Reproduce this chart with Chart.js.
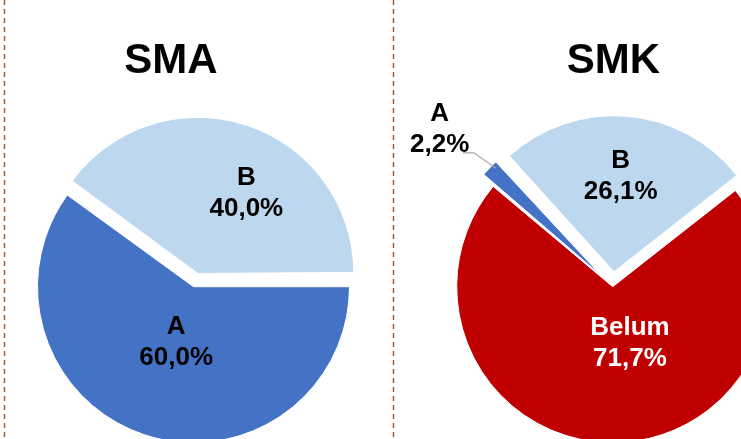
<!DOCTYPE html>
<html><head><meta charset="utf-8">
<script src="https://cdn.jsdelivr.net/npm/chart.js@4.4.1/dist/chart.umd.min.js"></script>
<style>
html,body{margin:0;padding:0;background:#fff;overflow:hidden;width:741px;height:439px;}
canvas{position:absolute;left:0;top:0;}
</style></head><body>
<canvas id="c1" width="741" height="600"></canvas>
<canvas id="c2" width="741" height="600"></canvas>
<script>
// ---- data ----
const chartTitles = ['SMA', 'SMK'];
const smaLabels = ['A', 'B'];
const smaValues = [60.0, 40.0];
const smkLabels = ['A', 'B', 'Belum'];
const smkValues = [2.2, 26.1, 71.7];

// ---- styles ----
const FONT = '"Liberation Sans", Arial, Helvetica, sans-serif';
const colorA = '#4472C4', colorB = '#BDD7EE', colorBelum = '#C00000';

const piePlugin = {
  id: 'piePlugin',
  beforeDatasetDraw(chart, args) {
    const meta = args.meta, ctrl = meta.controller;
    meta.data.forEach(arc => {
      const off = (arc.options.offset || 0) / 4;
      const fix = 1 - Math.sin(Math.min(Math.PI, arc.circumference || 0));
      arc.outerRadius = ctrl.outerRadius - off * fix;
    });
  },
  beforeDraw(chart, args, o) {
    if (!o.dividers) return;
    const ctx = chart.ctx;
    ctx.save();
    ctx.strokeStyle = '#9E5B34';
    ctx.lineWidth = 1.5;
    ctx.setLineDash([5, 4]);
    o.dividers.forEach(x => {
      ctx.beginPath(); ctx.moveTo(x, 0); ctx.lineTo(x, 439); ctx.stroke();
    });
    ctx.restore();
  },
  afterDatasetsDraw(chart, args, o) {
    const ctx = chart.ctx;
    const meta = chart.getDatasetMeta(0);
    const ds = chart.data.datasets[0];
    const total = ds.data.reduce((a, b) => a + b, 0);
    const R = meta.controller.outerRadius;
    ctx.save();
    meta.data.forEach((arc, i) => {
      const lp = o.labelPos[i];
      const t = (arc.options.offset || 0) / 4;
      const mid = (arc.startAngle + arc.endAngle) / 2;
      const cx = arc.x + Math.cos(mid) * t, cy = arc.y + Math.sin(mid) * t;
      const ang = arc.startAngle + lp.f * (arc.endAngle - arc.startAngle);
      const x = cx + Math.cos(ang) * lp.r * R, y = cy + Math.sin(ang) * lp.r * R;
      if (lp.leader) {
        const a0 = arc.startAngle + 0.7 * (arc.endAngle - arc.startAngle);
        const p0 = [cx + Math.cos(a0) * 0.97 * R, cy + Math.sin(a0) * 0.97 * R];
        const p1 = [cx + Math.cos(mid) * 1.14 * R, cy + Math.sin(mid) * 1.14 * R];
        ctx.strokeStyle = '#A6A6A6'; ctx.lineWidth = 1.2;
        ctx.beginPath(); ctx.moveTo(p0[0], p0[1]); ctx.lineTo(p1[0], p1[1]); ctx.lineTo(p1[0] - 11, p1[1]); ctx.stroke();
      }
      ctx.fillStyle = o.textColors[i];
      ctx.font = 'bold 26px ' + FONT;
      ctx.textAlign = 'center'; ctx.textBaseline = 'alphabetic';
      const cap = 26 * 0.358;
      ctx.fillText(chart.data.labels[i], x, y - 15.5 + cap);
      const pct = (ds.data[i] / total * 100).toFixed(1).replace('.', ',') + '%';
      ctx.fillText(pct, x, y + 15.5 + cap);
    });
    ctx.font = 'bold 42px ' + FONT;
    ctx.fillStyle = '#000';
    ctx.textAlign = 'center'; ctx.textBaseline = 'alphabetic';
    ctx.fillText(o.title, o.titleX, 73);
    ctx.restore();
  }
};

function makePie(id, labels, values, colors, offsets, rotation, padding, pluginOpts) {
  return new Chart(document.getElementById(id), {
    type: 'pie',
    data: {
      labels: labels,
      datasets: [{
        data: values,
        backgroundColor: colors,
        borderColor: '#FFFFFF',
        borderWidth: 1,
        offset: offsets
      }]
    },
    options: {
      responsive: false,
      animation: false,
      events: [],
      radius: 156,
      rotation: rotation,
      layout: { padding: padding },
      plugins: {
        legend: { display: false },
        tooltip: { enabled: false },
        title: { display: false },
        piePlugin: pluginOpts
      }
    },
    plugins: [piePlugin]
  });
}

makePie('c1', smaLabels, smaValues, [colorA, colorB], [0, 56], 90,
  { left: 20, right: 374, top: 100, bottom: 126.6 },
  { title: chartTitles[0], titleX: 171, dividers: [4.5, 393.5],
    textColors: ['#000', '#000'],
    labelPos: [{ f: 0.5, r: 0.36 }, { f: 0.588, r: 0.61 }] });

makePie('c2', smkLabels, smkValues, [colorA, colorB, colorBelum], [60, 60, 0], -50,
  { left: 500, right: 15.6, top: 100, bottom: 126.6 },
  { title: chartTitles[1], titleX: 613.3, dividers: null,
    textColors: ['#000', '#000', '#FFFFFF'],
    labelPos: [{ f: 0.33, r: 1.413, leader: true }, { f: 0.49, r: 0.624 }, { f: 0.428, r: 0.365 }] });
</script>
</body></html>
